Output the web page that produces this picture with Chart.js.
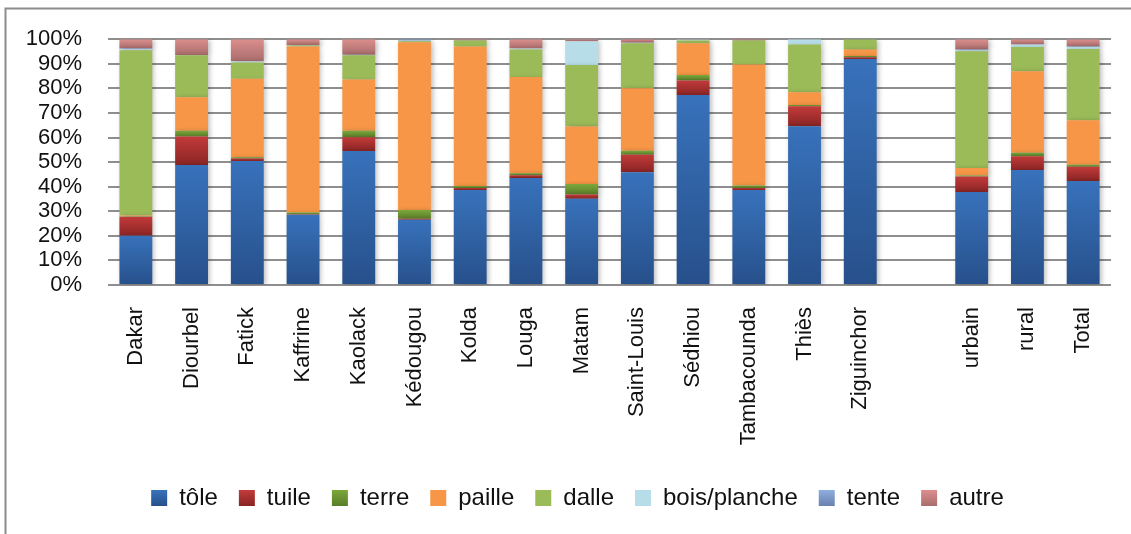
<!DOCTYPE html>
<html>
<head>
<meta charset="utf-8">
<script src="https://cdn.jsdelivr.net/npm/chart.js@4"></script>
<style>
  body { margin: 0; background: #fff; }
  #wrap { width: 1131px; height: 534px; }
</style>
</head>
<body>
<div id="wrap"><canvas id="roof-chart" width="1131" height="534"></canvas></div>
<script>
// DATA
// regions + urban/rural/total, one empty slot between them
const regions = ["Dakar", "Diourbel", "Fatick", "Kaffrine", "Kaolack", "Kédougou", "Kolda", "Louga", "Matam",
  "Saint-Louis", "Sédhiou", "Tambacounda", "Thiès", "Ziguinchor", "", "urbain", "rural", "Total"];

// share of households by roof material (%)
const tole    = [20.0, 48.8, 50.4, 28.6, 54.5, 26.5, 38.6, 43.5, 35.1, 45.9, 77.3, 38.6, 64.6, 91.9, null, 37.8, 46.8, 42.3];
const tuile   = [7.8, 11.6, 1.1, 0.2, 5.6, 0.5, 0.9, 1.2, 1.7, 7.1, 5.9, 0.9, 8.1, 0.8, null, 6.3, 5.6, 5.8];
const terre   = [0.2, 2.4, 0.5, 0.7, 2.7, 3.5, 0.8, 0.8, 4.3, 1.6, 2.2, 1.0, 0.5, 0.5, null, 0.4, 1.4, 0.8];
const paille  = [0.3, 13.6, 31.9, 67.5, 20.8, 68.3, 56.7, 39.1, 23.4, 25.4, 13.0, 49.2, 5.2, 2.6, null, 3.1, 33.2, 18.1];
const dalle   = [67.2, 17.1, 6.6, 0.4, 9.9, 0.4, 2.5, 11.2, 25.0, 18.4, 1.1, 9.8, 19.4, 4.2, null, 47.5, 9.8, 29.0];
const bois    = [0.4, 0.1, 0.4, 0.1, 0.1, 0.3, 0.0, 0.4, 9.7, 0.2, 0.4, 0.0, 2.2, 0.0, null, 0.4, 1.0, 0.8];
const tente   = [0.3, 0.0, 0.1, 0.1, 0.1, 0.5, 0.0, 0.0, 0.0, 0.0, 0.0, 0.0, 0.0, 0.0, null, 0.3, 0.0, 0.2];
const autre   = [3.8, 6.4, 9.0, 2.4, 6.3, 0.0, 0.5, 3.8, 0.8, 1.4, 0.1, 0.5, 0.0, 0.0, null, 4.2, 2.2, 3.0];

const yTicks = [0, 10, 20, 30, 40, 50, 60, 70, 80, 90, 100];

// series: label, values, top colour, bottom colour (same = flat fill)
const series = [
  ["tôle", tole, "#3872bb", "#27508b"],
  ["tuile", tuile, "#c23b3a", "#8a2424"],
  ["terre", terre, "#7ba83c", "#5a7d28"],
  ["paille", paille, "#f79646", "#f79646"],
  ["dalle", dalle, "#9bbb59", "#9bbb59"],
  ["bois/planche", bois, "#b7dde8", "#b7dde8"],
  ["tente", tente, "#8eaee0", "#6a81ad"],
  ["autre", autre, "#dc8f8d", "#a86d6c"]
];

// gradient per stacked segment, positioned with the y scale
const segmentFill = (ctx) => {
  const s = series[ctx.datasetIndex];
  const chart = ctx.chart;
  const y = chart.scales.y;
  if (s[2] === s[3] || !y || ctx.type !== "data") return s[2];
  let base = 0;
  for (let i = 0; i < ctx.datasetIndex; i++) base += series[i][1][ctx.dataIndex] || 0;
  const val = s[1][ctx.dataIndex] || 0;
  const top = y.getPixelForValue(base + val);
  const bottom = y.getPixelForValue(base);
  if (!isFinite(top) || !isFinite(bottom) || bottom - top < 1) return s[2];
  const g = chart.ctx.createLinearGradient(0, top, 0, bottom);
  g.addColorStop(0, s[2]);
  g.addColorStop(1, s[3]);
  return g;
};

// frame of the chart box (only top and left edges are visible)
const framePlugin = {
  id: "frame",
  beforeDraw(chart) {
    const c = chart.ctx;
    c.save();
    c.strokeStyle = "#8c8c8c";
    c.lineWidth = 2;
    c.beginPath();
    c.moveTo(5.5, 534);
    c.lineTo(5.5, 8.5);
    c.lineTo(1131, 8.5);
    c.stroke();
    c.restore();
  }
};

// legend in the original sits a bit right of the canvas centre
const legendShift = {
  id: "legendShift",
  afterLayout(chart) {
    chart.legend.left += 22;
    chart.legend.right += 22;
  }
};

// soft shadow behind the bars
const shadowPlugin = {
  id: "barShadow",
  beforeDatasetsDraw(chart) {
    const c = chart.ctx;
    c.save();
    c.shadowColor = "rgba(0,0,0,0.28)";
    c.shadowBlur = 5;
    c.shadowOffsetX = 2;
    c.shadowOffsetY = 1;
  },
  afterDatasetsDraw(chart) {
    chart.ctx.restore();
  }
};

const fontFamily = "'Liberation Sans', Arial, sans-serif";

new Chart("roof-chart", {
  type: "bar",
  data: {
    labels: regions,
    datasets: series.map((s) => ({
      label: s[0],
      data: s[1],
      backgroundColor: segmentFill,
      borderWidth: 0,
      barPercentage: 0.59,
      categoryPercentage: 1.0
    }))
  },
  plugins: [framePlugin, legendShift, shadowPlugin],
  options: {
    responsive: false,
    animation: false,
    layout: { padding: { left: 0, right: 20, top: 37, bottom: 14 } },
    plugins: {
      title: { display: false },
      tooltip: { enabled: false },
      legend: {
        position: "bottom",
        labels: {
          color: "#111",
          font: { family: fontFamily, size: 24 },
          boxWidth: 16,
          boxHeight: 16,
          padding: 21,
          generateLabels: (chart) => series.map((s, i) => {
            const g = chart.ctx.createLinearGradient(0, 490, 0, 506);
            g.addColorStop(0, s[2]);
            g.addColorStop(1, s[3]);
            return { text: s[0], fillStyle: g, strokeStyle: "rgba(0,0,0,0)", lineWidth: 0, datasetIndex: i, fontColor: "#111" };
          })
        }
      }
    },
    scales: {
      x: {
        stacked: true,
        grid: { display: false },
        border: { display: false },
        ticks: {
          color: "#111",
          font: { family: fontFamily, size: 22 },
          minRotation: 90,
          maxRotation: 90,
          autoSkip: false,
          padding: 14
        },
        afterFit: (axis) => { axis.height = 180; }
      },
      y: {
        stacked: true,
        min: 0,
        max: 100,
        afterBuildTicks: (axis) => { axis.ticks = yTicks.map((v) => ({ value: v })); },
        grid: { color: "#8e8e8e", lineWidth: 2, drawTicks: false },
        border: { display: false },
        ticks: {
          color: "#111",
          font: { family: fontFamily, size: 22 },
          padding: 26,
          autoSkip: false,
          callback: (v) => v + "%"
        },
        afterFit: (axis) => { axis.width = 108; }
      }
    }
  }
});
</script>
</body>
</html>
